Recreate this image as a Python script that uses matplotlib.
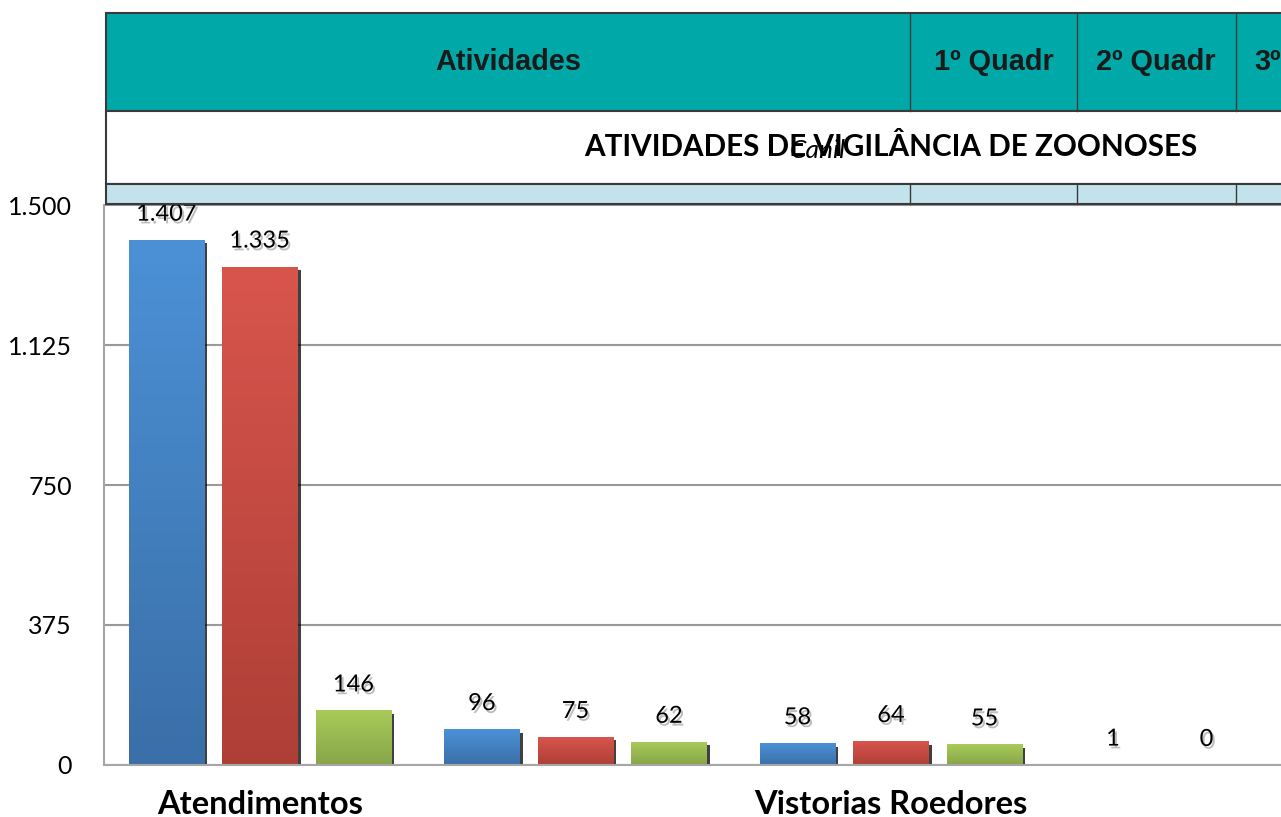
import numpy as np
import matplotlib
matplotlib.use('Agg')
import matplotlib.pyplot as plt
import matplotlib.patheffects as pe
from matplotlib.colors import LinearSegmentedColormap
from matplotlib.patches import Rectangle

# DATA
categorias = ['Atendimentos', '', 'Vistorias Roedores', '']
quadr1 = [1407, 96, 58, 1]
quadr2 = [1335, 75, 64, 0]
quadr3 = [146, 62, 55, 3]
yticks = [0, 375, 750, 1125, 1500]
cabecalho = ['Atividades', '1º Quadr', '2º Quadr', '3º']
titulo = 'ATIVIDADES DE VIGILÂNCIA DE ZOONOSES'

# colours (top, bottom) for the gradients
cores = [('#4C91D6', '#3A6FA8'), ('#D8554C', '#AE3F37'), ('#A9CB5A', '#87A548')]

W, H = 1281, 817
fig = plt.figure(figsize=(W / 100, H / 100), dpi=100)
ax = fig.add_axes([104 / W, (H - 765) / H, 1 - 104 / W, 560 / H])

def fmt(v):
    return f'{v:,.0f}'.replace(',', '.')

x = np.arange(len(categorias))
passo = 0.2964
larg = 0.2377
series = [quadr1, quadr2, quadr3]
for i, vals in enumerate(series):
    pos = x + (i - 1) * passo
    bars = ax.bar(pos, vals, width=larg, color=cores[i][1], zorder=3)
    cmap = LinearSegmentedColormap.from_list('g', [cores[i][1], cores[i][0]])
    grad = np.linspace(0, 1, 256).reshape(-1, 1)
    for b, v in zip(bars, vals):
        b.set_path_effects([pe.SimplePatchShadow(offset=(2.5, -2.5), shadow_rgbFace='black', alpha=0.75),
                            pe.Normal()])
        if v > 0:
            im = ax.imshow(grad, cmap=cmap, origin='lower', aspect='auto', zorder=4,
                           extent=(b.get_x(), b.get_x() + b.get_width(), 0, v))
            im.set_clip_path(b)
        ax.annotate(fmt(v), (b.get_x() + b.get_width() / 2, v), xytext=(0, 18.4),
                    textcoords='offset points', ha='center', va='center', fontsize=17,
                    family='Lato', zorder=6,
                    path_effects=[pe.withSimplePatchShadow(offset=(1.5, -2), shadow_rgbFace='#444444', alpha=0.35)])

ax.set_xlim(-0.494, 3.236)
ax.set_ylim(0, 1500)
ax.set_yticks(yticks)
ax.set_yticklabels([fmt(v) for v in yticks], family='Lato', fontsize=18)
ax.set_xticks(x)
ax.set_xticklabels(categorias, family='Lato', fontsize=23.5, fontweight='bold')
ax.tick_params(axis='y', length=0, pad=23)
ax.tick_params(axis='x', length=0, pad=18)
ax.grid(axis='y', color='#999999', linewidth=1.5, zorder=0)
for s in ['top', 'right']:
    ax.spines[s].set_visible(False)
for s in ['left', 'bottom']:
    ax.spines[s].set_color('#A6A6A6')
    ax.spines[s].set_linewidth(1.5)
    ax.spines[s].set_zorder(5)

# table header drawn on top of the figure
def frac_x(px):
    return px / W

def frac_y(py):
    return 1 - py / H

def caixa(x0, y0, x1, y1, cor):
    fig.patches.append(Rectangle((frac_x(x0), frac_y(y1)), frac_x(x1 - x0), (y1 - y0) / H,
                                 transform=fig.transFigure, facecolor=cor, edgecolor='#3A3A3A',
                                 linewidth=1.5, zorder=10))

caixa(106, 13, 1300, 111, '#00A8A8')
caixa(106, 111, 1300, 184, 'white')
caixa(106, 184, 1300, 204, '#C2E2EC')
for xd in [910, 1077, 1236]:
    for (ya, yb) in [(13, 111), (184, 204)]:
        fig.add_artist(plt.Line2D([frac_x(xd)] * 2, [frac_y(ya), frac_y(yb)], color='#3A3A3A',
                                  linewidth=1, transform=fig.transFigure, zorder=11))

for txt, cx in zip(cabecalho, [508, 994, 1156, 1268]):
    fig.text(frac_x(cx), frac_y(62), txt, ha='center', va='center', fontsize=20.8,
             fontweight='bold', family='Liberation Sans', color='#1A1A1A', zorder=12)

fig.text(frac_x(891), frac_y(147), titulo, ha='center', va='center', fontsize=21.3,
         fontweight='bold', family='Lato', color='black', zorder=12)
fig.text(frac_x(818), frac_y(150), 'Canil', ha='center', va='center', fontsize=19,
         style='italic', family='Lato', color='black', zorder=12)

fig.savefig('out.png', dpi=100)
